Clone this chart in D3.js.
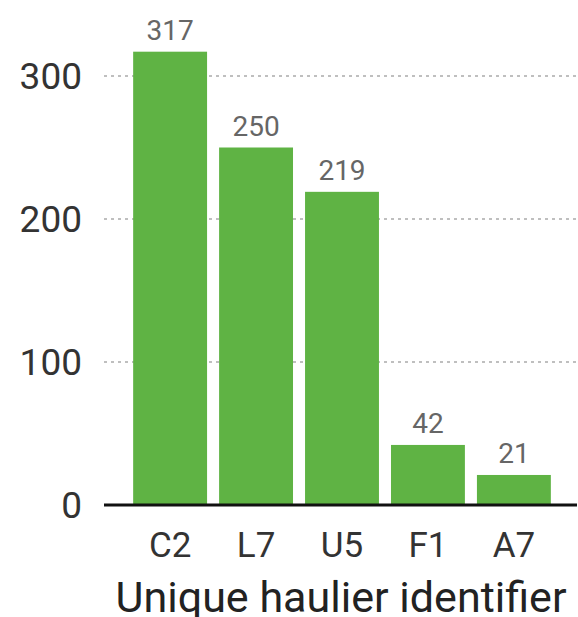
<!DOCTYPE html>
<html>
<head>
<meta charset="utf-8">
<script src="https://cdn.jsdelivr.net/npm/d3@7"></script>
<style>
  body { margin: 0; background: #fff; }
  svg { font-family: Roboto, "Noto Sans", sans-serif; }
</style>
</head>
<body>
<div id="canvas"></div>
<script>
// data
var categories = ["C2", "L7", "U5", "F1", "A7"];
var values = [317, 250, 219, 42, 21];
var yTicks = [0, 100, 200, 300];
var xTitle = "Unique haulier identifier";

var width = 578, height = 617;
var plotLeft = 104, plotRight = 577, baseY = 505;

var svg = d3.select("#canvas").append("svg")
    .attr("width", width)
    .attr("height", height);

var x = d3.scaleBand()
    .domain(categories)
    .range([128, 556])
    .paddingInner(0.14)
    .paddingOuter(0.06);

var y = d3.scaleLinear()
    .domain([0, 300])
    .range([baseY, 76]);

// dotted gridlines
svg.append("g")
    .selectAll("line")
    .data(yTicks.filter(function(d) { return d > 0; }))
    .enter().append("line")
    .attr("x1", plotLeft)
    .attr("x2", plotRight)
    .attr("y1", function(d) { return y(d); })
    .attr("y2", function(d) { return y(d); })
    .attr("stroke", "#aaaaaa")
    .attr("stroke-width", 1.5)
    .attr("stroke-dasharray", "3,4");

// y tick labels
svg.append("g")
    .selectAll("text")
    .data(yTicks)
    .enter().append("text")
    .attr("x", 82)
    .attr("y", function(d) { return y(d); })
    .attr("dy", "0.36em")
    .attr("text-anchor", "end")
    .style("font-size", "37px")
    .style("fill", "#333333")
    .text(function(d) { return d; });

// bars
svg.append("g")
    .selectAll("rect")
    .data(values)
    .enter().append("rect")
    .attr("x", function(d, i) { return x(categories[i]); })
    .attr("width", x.bandwidth())
    .attr("y", function(d) { return y(d); })
    .attr("height", function(d) { return y(0) - y(d); })
    .style("fill", "#5fb344");

// value labels
svg.append("g")
    .selectAll("text")
    .data(values)
    .enter().append("text")
    .attr("x", function(d, i) { return x(categories[i]) + x.bandwidth() / 2; })
    .attr("y", function(d) { return y(d) - 12; })
    .attr("text-anchor", "middle")
    .style("font-size", "28px")
    .style("fill", "#666666")
    .text(function(d) { return d; });

// baseline
svg.append("line")
    .attr("x1", plotLeft)
    .attr("x2", plotRight)
    .attr("y1", baseY)
    .attr("y2", baseY)
    .attr("stroke", "#111111")
    .attr("stroke-width", 3);

// x labels
svg.append("g")
    .selectAll("text")
    .data(categories)
    .enter().append("text")
    .attr("x", function(d) { return x(d) + x.bandwidth() / 2; })
    .attr("y", 557)
    .attr("text-anchor", "middle")
    .style("font-size", "35px")
    .style("fill", "#333333")
    .text(function(d) { return d; });

// axis title
svg.append("text")
    .attr("x", 341)
    .attr("y", 612)
    .attr("text-anchor", "middle")
    .attr("textLength", 451)
    .attr("lengthAdjust", "spacingAndGlyphs")
    .style("font-size", "42px")
    .style("fill", "#222222")
    .text(xTitle);
</script>
</body>
</html>
